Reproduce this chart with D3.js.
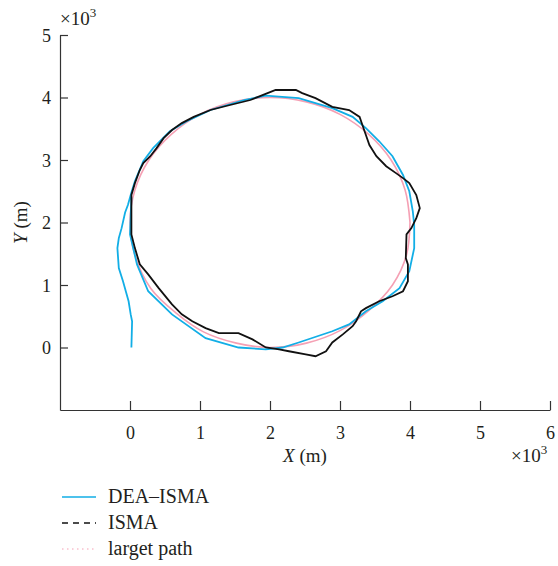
<!DOCTYPE html>
<html>
<head>
<meta charset="utf-8">
<script src="https://cdn.jsdelivr.net/npm/d3@7"></script>
<style>
  body { margin: 0; background: #fff; }
  text { font-family: "Liberation Serif", "DejaVu Serif", serif; fill: #231f20; }
</style>
</head>
<body>
<div id="chart"></div>
<script>
// values in units of 10^3 m
var xTicks = [0, 1, 2, 3, 4, 5, 6];
var yTicks = [0, 1, 2, 3, 4, 5];

var seriesNames = ["DEA\u2013ISMA", "ISMA", "larget path"];

// DEA-ISMA (cyan)
var deaX = [0.02, 0.03, 0.01, -0.02, -0.10, -0.16, -0.18, -0.16, -0.12, -0.07, -0.03, 0.02,
            0.07, 0.19, 0.33, 0.57, 0.81, 1.15, 1.63, 1.94, 2.41, 2.89, 3.18, 3.37, 3.56, 3.75,
            3.90, 3.99, 4.04, 4.06, 4.06, 3.99, 3.85, 3.61, 3.37, 3.13, 2.89, 2.41, 2.18, 1.94,
            1.55, 1.08, 0.60, 0.26, 0.10, 0.00, 0.01, 0.02];
var deaY = [0.00, 0.42, 0.53, 0.74, 1.06, 1.27, 1.59, 1.75, 1.91, 2.16, 2.28, 2.48,
            2.66, 2.98, 3.19, 3.46, 3.62, 3.80, 3.96, 4.03, 3.99, 3.83, 3.69, 3.51, 3.30, 3.06,
            2.76, 2.50, 2.18, 1.96, 1.59, 1.22, 0.95, 0.74, 0.58, 0.37, 0.26, 0.08, 0.00, -0.03,
            0.00, 0.15, 0.53, 0.90, 1.33, 1.81, 2.10, 2.40];

// ISMA (black)
var ismaX = [0.02, 0.02, 0.02, 0.07, 0.14, 0.19, 0.29, 0.38, 0.48, 0.60, 0.74, 0.91, 1.15, 1.43,
             1.72, 2.01, 2.08, 2.37, 2.46, 2.65, 2.89, 3.13, 3.28, 3.32, 3.37, 3.42, 3.52, 3.66,
             3.80, 3.90, 3.99, 4.09, 4.14, 4.09, 4.02, 3.95, 3.94, 3.97, 3.97, 3.90, 3.75, 3.56,
             3.37, 3.30, 3.23, 3.18, 3.04, 2.89, 2.80, 2.65, 2.51, 2.27, 2.13, 1.94, 1.75, 1.55,
             1.27, 1.08, 0.89, 0.74, 0.60, 0.41, 0.26, 0.14, 0.07, 0.02];
var ismaY = [1.81, 2.12, 2.44, 2.63, 2.84, 2.95, 3.06, 3.19, 3.35, 3.48, 3.59, 3.69, 3.80, 3.88,
             3.96, 4.09, 4.12, 4.12, 4.07, 3.99, 3.85, 3.80, 3.69, 3.56, 3.40, 3.24, 3.06, 2.90,
             2.79, 2.71, 2.63, 2.44, 2.23, 2.07, 1.91, 1.81, 1.43, 1.33, 1.06, 0.90, 0.82, 0.74,
             0.63, 0.58, 0.42, 0.34, 0.21, 0.08, -0.06, -0.14, -0.11, -0.06, -0.03, 0.00, 0.13, 0.23,
             0.23, 0.31, 0.42, 0.53, 0.69, 0.95, 1.17, 1.33, 1.59, 1.81];

// target path (pink)
var targetX = [4.00, 3.93, 3.73, 3.41, 3.00, 2.52, 2.00, 1.48, 1.00, 0.59, 0.27, 0.07,
               0.00, 0.07, 0.30, 0.66, 1.05, 1.52, 2.00, 2.52, 3.00, 3.41, 3.75, 3.95, 4.00];
var targetY = [2.00, 2.52, 3.00, 3.41, 3.73, 3.93, 4.00, 3.93, 3.73, 3.41, 3.00, 2.52,
               2.00, 1.48, 0.94, 0.55, 0.25, 0.07, 0.00, 0.07, 0.27, 0.59, 1.00, 1.48, 2.00];

var width = 558, height = 566;
var svg = d3.select("#chart").append("svg")
    .attr("width", width)
    .attr("height", height);

var x = d3.scaleLinear().domain([-1, 6]).range([60, 550]);
var y = d3.scaleLinear().domain([-1, 5]).range([410, 35]);

var axisColor = "#333";

// x axis, ticks pointing inward
var gx = svg.append("g")
    .attr("transform", "translate(0," + y(-1) + ")")
    .call(d3.axisBottom(x).tickValues(xTicks).tickFormat(d3.format("d"))
        .tickSizeInner(-9).tickSizeOuter(0).tickPadding(16));

var gy = svg.append("g")
    .attr("transform", "translate(" + x(-1) + ",0)")
    .call(d3.axisLeft(y).tickValues(yTicks).tickFormat(d3.format("d"))
        .tickSizeInner(-8).tickSizeOuter(0).tickPadding(9));

[gx, gy].forEach(function(g) {
    g.select(".domain").attr("stroke", axisColor).attr("stroke-width", 1.2);
    g.selectAll(".tick line").attr("stroke", axisColor).attr("stroke-width", 1.2);
    g.selectAll(".tick text")
        .style("font-family", "'Liberation Serif', serif")
        .style("font-size", "18px")
        .attr("fill", "#231f20");
});
gy.selectAll(".tick text").attr("dy", "0.35em");

// multiplier labels
function times10(xp, yp, anchor) {
    var t = svg.append("text")
        .attr("x", xp).attr("y", yp)
        .attr("text-anchor", anchor)
        .style("font-size", "19px");
    t.append("tspan").text("\u00d710");
    t.append("tspan").attr("dy", -8).style("font-size", "13px").text("3");
}
times10(60, 25, "start");
times10(511, 462, "start");

// axis titles
var xt = svg.append("text")
    .attr("x", 305).attr("y", 462)
    .attr("text-anchor", "middle")
    .style("font-size", "19px");
xt.append("tspan").style("font-style", "italic").text("X");
xt.append("tspan").text(" (m)");

var yt = svg.append("text")
    .attr("transform", "translate(27," + y(2) + ") rotate(-90)")
    .attr("text-anchor", "middle")
    .style("font-size", "19px");
yt.append("tspan").style("font-style", "italic").text("Y");
yt.append("tspan").text(" (m)");

function toPoints(xs, ys) {
    return xs.map(function(v, i) { return [v, ys[i]]; });
}

var line = d3.line()
    .x(function(d) { return x(d[0]); })
    .y(function(d) { return y(d[1]); });

var smooth = d3.line()
    .curve(d3.curveCatmullRom)
    .x(function(d) { return x(d[0]); })
    .y(function(d) { return y(d[1]); });

var colors = ["#12aee6", "#111", "#f5a0b4"];

// target path
svg.append("path")
    .datum(toPoints(targetX, targetY))
    .attr("d", smooth)
    .attr("fill", "none")
    .attr("stroke", colors[2])
    .attr("stroke-width", 1.6);

// DEA-ISMA
svg.append("path")
    .datum(toPoints(deaX, deaY))
    .attr("d", line)
    .attr("fill", "none")
    .attr("stroke", colors[0])
    .attr("stroke-width", 1.8);

// ISMA
svg.append("path")
    .datum(toPoints(ismaX, ismaY))
    .attr("d", line)
    .attr("fill", "none")
    .attr("stroke", colors[1])
    .attr("stroke-width", 1.8);

// legend
var dashes = [null, "6,5", "1.5,3.5"];
var legend = svg.append("g");
seriesNames.forEach(function(name, i) {
    var ly = 497 + i * 26;
    legend.append("line")
        .attr("x1", 62).attr("x2", 96)
        .attr("y1", ly).attr("y2", ly)
        .attr("stroke", colors[i])
        .attr("stroke-width", i == 2 ? 1.2 : 1.6)
        .attr("stroke-dasharray", dashes[i]);
    legend.append("text")
        .attr("x", 108).attr("y", ly + 6)
        .style("font-size", "20px")
        .text(name);
});
</script>
</body>
</html>
